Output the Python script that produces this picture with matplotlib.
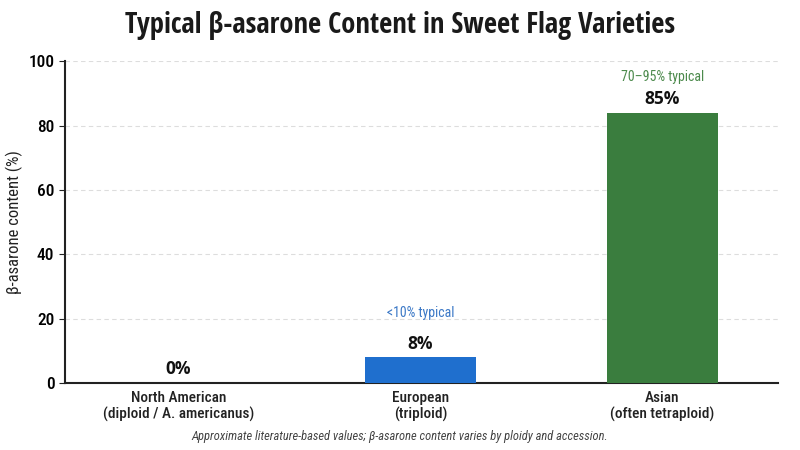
import matplotlib.pyplot as plt

plt.rcParams['font.family'] = ['Roboto Condensed', 'DejaVu Sans']
TITLE_FONT = ['Open Sans Condensed', 'DejaVu Sans']
VALUE_FONT = ['Open Sans', 'DejaVu Sans']

categories = ["North American\n(diploid / A. americanus)", "European\n(triploid)",
              "Asian\n(often tetraploid)"]
values = [0, 8, 84]
value_labels = ["0%", "8%", "85%"]
notes = [None, "<10% typical", "70–95% typical"]
colors = ["#9e9e9e", "#1f6fce", "#3a7d3e"]
note_colors = [None, "#3b78c6", "#4c8a4c"]

fig = plt.figure(figsize=(8, 4.5), dpi=100)
ax = fig.add_axes([0.081, 0.149, 0.892, 0.715])

x = range(len(categories))
ax.bar(x, values, width=0.46, color=colors, zorder=3)

for i, v in enumerate(values):
    ax.text(i, v + 4.2, value_labels[i], ha="center", va="center",
            fontsize=12.5, fontweight="bold", family=VALUE_FONT, color="#111111")
    if notes[i]:
        ax.text(i, min(v + 13.6, 95), notes[i], ha="center", va="center",
                fontsize=10, color=note_colors[i])

ax.set_xlim(-0.47, 2.48)
ax.set_ylim(0, 100)
ax.set_yticks([0, 20, 40, 60, 80, 100])
ax.set_xticks(list(x))
ax.set_xticklabels(categories, fontsize=11, fontweight="medium", color="#222222",
                   linespacing=1.1)
for lab in ax.get_yticklabels():
    lab.set_fontweight("medium")
ax.tick_params(axis="y", labelsize=12.5, length=4, color="#222222")
ax.tick_params(axis="x", length=0, pad=6)
ax.set_ylabel("β-asarone content (%)", fontsize=12, color="#222222")

ax.grid(axis="y", linestyle=(0, (4, 3)), color="#dddddd", linewidth=0.8, zorder=0)
for s in ["top", "right"]:
    ax.spines[s].set_visible(False)
for s in ["left", "bottom"]:
    ax.spines[s].set_linewidth(1.5)
    ax.spines[s].set_color("#222222")

fig.suptitle("Typical β-asarone Content in Sweet Flag Varieties", y=0.975,
             fontsize=20.5, fontweight="bold", family=TITLE_FONT, color="#1a1a1a")
fig.text(0.5, 0.022, "Approximate literature-based values; β-asarone content varies by ploidy and accession.",
         ha="center", fontsize=9, style="italic", color="#444444")

fig.savefig("out.png", dpi=100)
